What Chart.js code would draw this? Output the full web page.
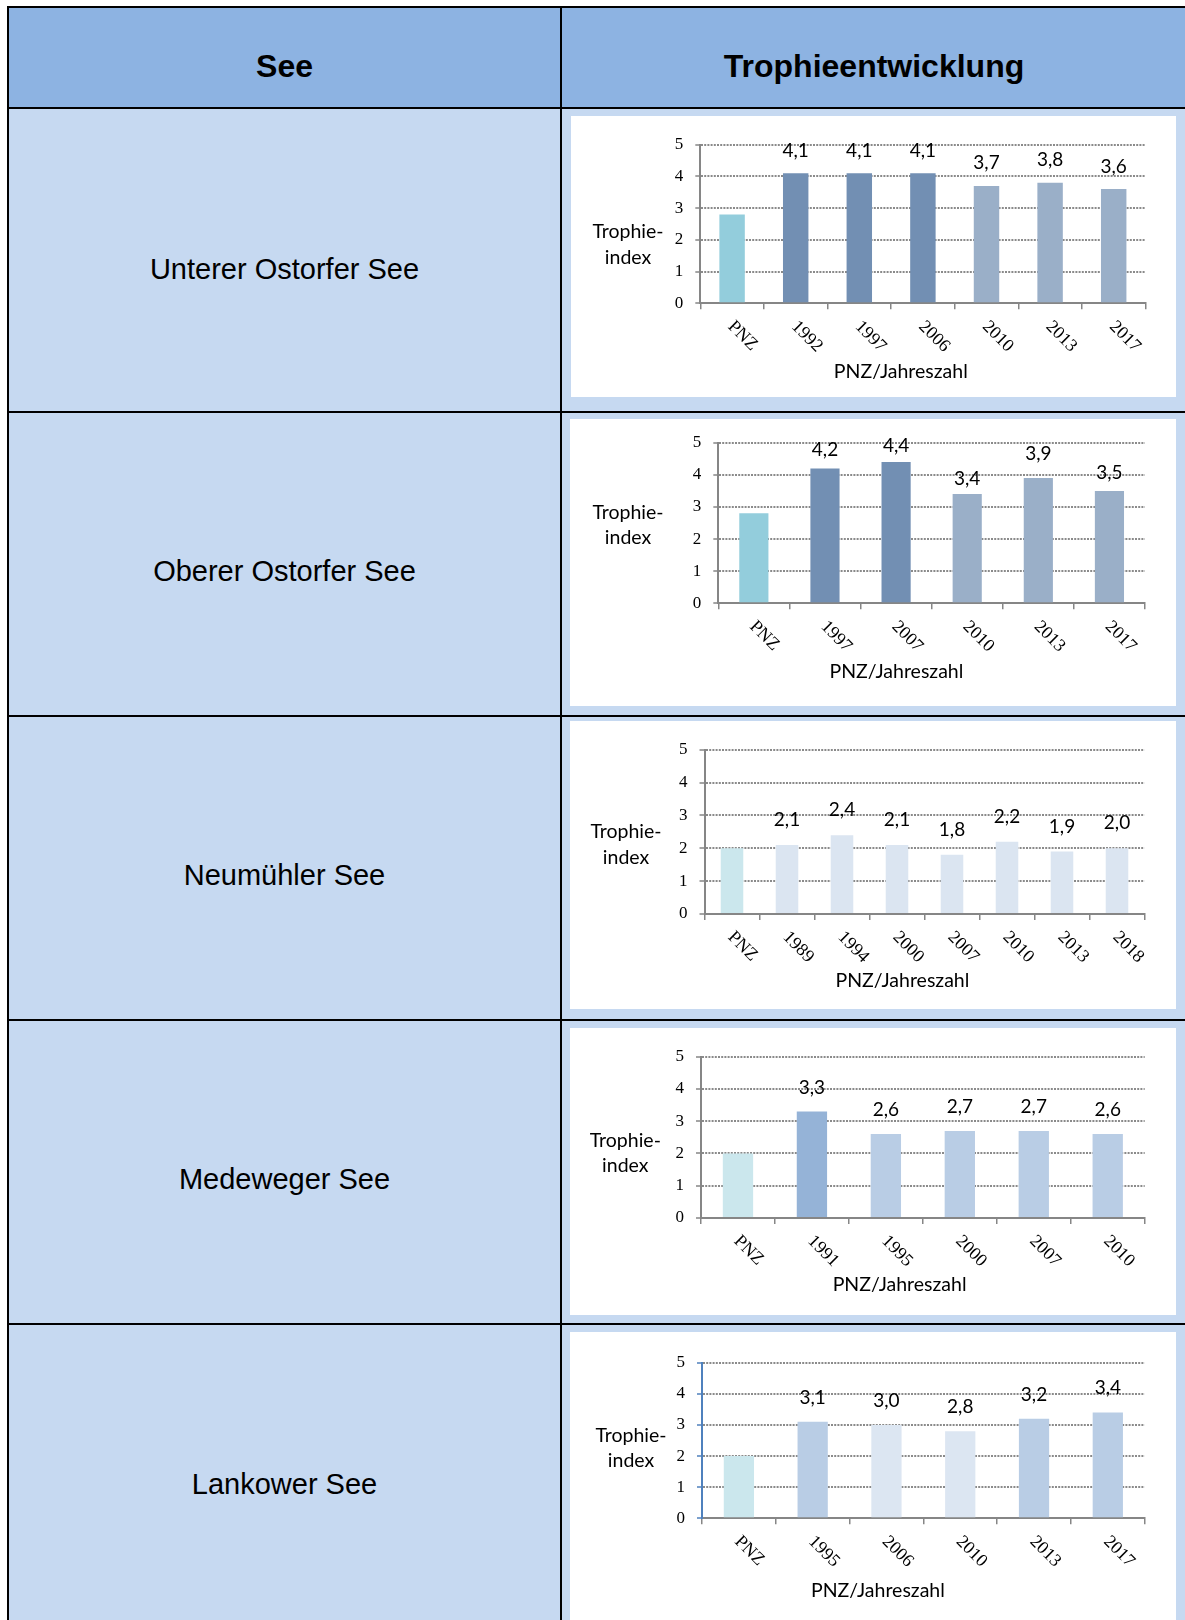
<!DOCTYPE html>
<html><head><meta charset="utf-8">
<script src="https://cdn.jsdelivr.net/npm/chart.js@4.4.1/dist/chart.umd.min.js"></script>
<style>
html,body{margin:0;padding:0;background:#fff;}
body{width:1185px;height:1620px;position:relative;overflow:hidden;font-family:"Liberation Sans",Arial,sans-serif;}
.t{position:absolute;text-align:center;white-space:nowrap;color:#000;}
canvas{position:absolute;}
</style></head><body>
<script>
// ---- data ----
const headerLabels = ['See', 'Trophieentwicklung'];
const lakeNames = ['Unterer Ostorfer See', 'Oberer Ostorfer See', 'Neumühler See', 'Medeweger See', 'Lankower See'];
const yTicks = [0, 1, 2, 3, 4, 5];
const yTitleLines = ['Trophie-', 'index'];
const xTitleText = 'PNZ/Jahreszahl';

const unterCategories = ['PNZ', '1992', '1997', '2006', '2010', '2013', '2017'];
const unterValues = [2.8, 4.1, 4.1, 4.1, 3.7, 3.8, 3.6];

const oberCategories = ['PNZ', '1997', '2007', '2010', '2013', '2017'];
const oberValues = [2.8, 4.2, 4.4, 3.4, 3.9, 3.5];

const neuCategories = ['PNZ', '1989', '1994', '2000', '2007', '2010', '2013', '2018'];
const neuValues = [2.0, 2.1, 2.4, 2.1, 1.8, 2.2, 1.9, 2.0];

const medCategories = ['PNZ', '1991', '1995', '2000', '2007', '2010'];
const medValues = [2.0, 3.3, 2.6, 2.7, 2.7, 2.6];

const lanCategories = ['PNZ', '1995', '2006', '2010', '2013', '2017'];
const lanValues = [2.0, 3.1, 3.0, 2.8, 3.2, 3.4];

// ---- styles / layout ----
const PNZ1 = '#93CDDC', DARK = '#728FB3', LIGHT = '#9AAFC8';
const PNZ2 = '#CBE7ED', PALE = '#DBE5F1', MID = '#B9CDE5', STRONG = '#95B3D7', PALE2 = '#DCE6F2';

const rowTops = [109, 413, 717, 1021, 1325];
const rowBottoms = [411, 715, 1019, 1323, 1620];
const rowTextY = [268.6, 571.3, 875, 1178.8, 1483.5];

const charts = [
  {cats: unterCategories, vals: unterValues,
   colors: [PNZ1, DARK, DARK, DARK, LIGHT, LIGHT, LIGHT],
   box: [571, 116, 1176, 397], plot: [700.3, 144.7, 1145.5, 303.3],
   yTitle: [628, 238.3, 264], xTitle: [900.8, 377.7], gap: 16.5, bar: 0.40},
  {cats: oberCategories, vals: oberValues,
   colors: [PNZ1, DARK, DARK, LIGHT, LIGHT, LIGHT],
   box: [570, 419, 1176, 706], plot: [718.3, 442.7, 1145, 603.3],
   yTitle: [628, 519.3, 544.3], xTitle: [896.4, 678.3], gap: [0, 12.3, 9.7, 8.7, 18, 11.7], bar: 0.41},
  {cats: neuCategories, vals: neuValues,
   colors: [PNZ2, PALE, PALE, PALE, PALE, PALE, PALE, PALE],
   box: [570, 721, 1176, 1009], plot: [704.5, 749.7, 1144.5, 914],
   yTitle: [626, 838.3, 864], xTitle: [902.4, 986.7], gap: 19, bar: 0.41},
  {cats: medCategories, vals: medValues,
   colors: [PNZ2, STRONG, MID, MID, MID, MID],
   box: [570, 1028, 1176, 1315], plot: [701, 1056.7, 1144.7, 1218],
   yTitle: [625.3, 1146.7, 1172.3], xTitle: [899.6, 1290.7], gap: 18, bar: 0.41},
  {cats: lanCategories, vals: lanValues,
   colors: [PNZ2, MID, PALE2, PALE2, MID, MID],
   box: [570, 1332, 1176, 1620], plot: [702, 1362.7, 1144.7, 1518.3],
   yTitle: [631, 1441.7, 1466.7], xTitle: [877.9, 1596.7], gap: 18, bar: 0.41, yAxisColor: '#4F81BD'}
];

function rect(x, y, w, h, bg) {
  const d = document.createElement('div');
  d.style.cssText = `position:absolute;left:${x}px;top:${y}px;width:${w}px;height:${h}px;background:${bg};`;
  document.body.appendChild(d);
  return d;
}
function text(str, cx, cy, size, bold) {
  const d = document.createElement('div');
  d.className = 't';
  d.textContent = str;
  d.style.cssText = `left:${cx - 300}px;top:${cy - 25}px;width:600px;height:50px;line-height:50px;font-size:${size}px;font-weight:${bold ? 'bold' : 'normal'};`;
  document.body.appendChild(d);
}

// table backgrounds
rect(9, 8, 1176, 99, '#8DB3E2');
for (let i = 0; i < rowTops.length; i++) rect(9, rowTops[i], 1176, rowBottoms[i] - rowTops[i], '#C6D9F1');
// white chart boxes
charts.forEach(c => rect(c.box[0], c.box[1], c.box[2] - c.box[0], c.box[3] - c.box[1], '#FFFFFF'));
// borders
rect(7, 6, 1178, 2, '#000');
rect(7, 6, 2, 1614, '#000');
rect(560, 6, 2, 1614, '#000');
rect(7, 107, 1178, 2, '#000');
for (let i = 0; i < rowBottoms.length - 1; i++) rect(7, rowBottoms[i], 1178, 2, '#000');
// texts
text(headerLabels[0], 284.5, 66, 32, true);
text(headerLabels[1], 874, 66, 32, true);
lakeNames.forEach((n, i) => text(n, 284.5, rowTextY[i], 29, false));

function fmt(v) { return v.toFixed(1).replace('.', ','); }

function textPlugin(c) {
  return {
    id: 'texts',
    afterDraw(chart) {
      const ctx = chart.ctx, xs = chart.scales.x, ox = c.box[0], oy = c.box[1];
      ctx.save();
      ctx.fillStyle = '#000';
      ctx.font = '19px Lato';
      ctx.textAlign = 'center';
      ctx.textBaseline = 'alphabetic';
      chart.getDatasetMeta(0).data.forEach((bar, i) => {
        if (i === 0) return;
        const g = Array.isArray(c.gap) ? c.gap[i] : c.gap;
        ctx.fillText(fmt(chart.data.datasets[0].data[i]), bar.x, bar.y - g);
      });
      ctx.font = '19.5px Lato';
      ctx.fillText(yTitleLines[0], c.yTitle[0] - ox, c.yTitle[1] - oy);
      ctx.fillText(yTitleLines[1], c.yTitle[0] - ox, c.yTitle[2] - oy);
      ctx.fillText(xTitleText, c.xTitle[0] - ox, c.xTitle[1] - oy);
      ctx.font = '18px "Liberation Serif"';
      ctx.textAlign = 'left';
      ctx.textBaseline = 'middle';
      chart.data.labels.forEach((lab, i) => {
        const px = xs.getPixelForTick(i);
        ctx.save();
        ctx.translate(px - 1.5, xs.top + 20.5);
        ctx.rotate(Math.PI / 4);
        ctx.fillText(lab, 0, 0);
        ctx.restore();
      });
      ctx.restore();
    }
  };
}

charts.forEach(c => {
  const [bx0, by0, bx1, by1] = c.box;
  const [pl, pt, pr, pb] = c.plot;
  const cv = document.createElement('canvas');
  cv.width = bx1 - bx0; cv.height = by1 - by0;
  cv.style.left = bx0 + 'px'; cv.style.top = by0 + 'px';
  cv.style.width = (bx1 - bx0) + 'px'; cv.style.height = (by1 - by0) + 'px';
  document.body.appendChild(cv);
  const axisCol = c.yAxisColor || '#868686';
  new Chart(cv.getContext('2d'), {
    type: 'bar',
    data: {labels: c.cats, datasets: [{data: c.vals, backgroundColor: c.colors, borderWidth: 0,
      barPercentage: 1, categoryPercentage: c.bar}]},
    options: {
      responsive: false, animation: false, devicePixelRatio: 1,
      layout: {padding: {left: 0, top: pt - by0, right: bx1 - pr, bottom: 0}},
      plugins: {legend: {display: false}, tooltip: {enabled: false}, title: {display: false}},
      scales: {
        x: {type: 'category', offset: true,
          grid: {display: true, offset: true, drawOnChartArea: false, drawTicks: true, tickLength: 6,
            tickColor: '#868686', tickWidth: 1.5, color: '#868686', lineWidth: 1.5},
          border: {display: true, color: '#868686', width: 2},
          ticks: {display: false},
          afterFit: s => { s.height = by1 - pb; }},
        y: {min: yTicks[0], max: yTicks[yTicks.length - 1],
          ticks: {stepSize: 1, color: '#000', font: {family: '"Liberation Serif"', size: 17}, padding: 12},
          grid: {color: '#8a8a8a', lineWidth: 2, drawTicks: true, tickLength: 5,
            tickColor: axisCol, tickWidth: 1.5, tickBorderDash: []},
          border: {display: true, color: axisCol, width: 2, dash: [2, 1.2]},
          afterFit: s => { s.width = pl - bx0; }}
      }
    },
    plugins: [textPlugin(c)]
  });
});
</script>
</body></html>
